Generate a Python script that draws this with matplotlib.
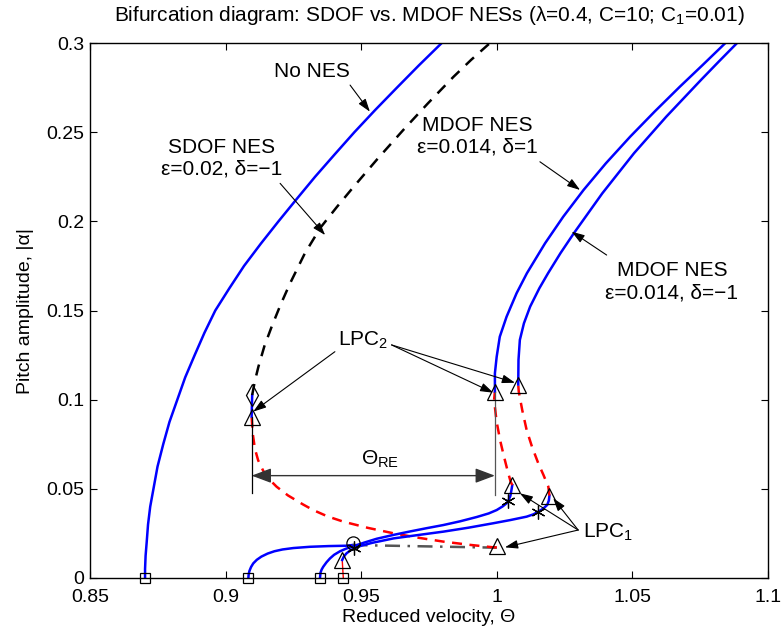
import numpy as np
import matplotlib
matplotlib.use('Agg')
import matplotlib.pyplot as plt
from matplotlib import font_manager

names = set(f.name for f in font_manager.fontManager.ttflist)
if 'Liberation Sans Narrow' in names:
    plt.rcParams['font.family'] = ['Liberation Sans Narrow', 'DejaVu Sans']
else:
    plt.rcParams['font.family'] = ['Liberation Sans', 'DejaVu Sans']
plt.rcParams['mathtext.fontset'] = 'custom'
plt.rcParams['mathtext.rm'] = plt.rcParams['font.family'][0]
plt.rcParams['mathtext.it'] = plt.rcParams['font.family'][0]

# ---- data ----
# no NES (blue, stable)
nones_theta = [0.8703, 0.8703, 0.8705, 0.8709, 0.8714, 0.8722, 0.8734, 0.8749, 0.8770, 0.8793,
               0.8822, 0.8851, 0.8886, 0.8922, 0.8962, 0.9014, 0.9068, 0.9130, 0.9195, 0.9262,
               0.9330, 0.9402, 0.9475, 0.9552, 0.9632, 0.9713, 0.9797]
nones_alpha = [0.0, 0.005, 0.0125, 0.02, 0.03, 0.04, 0.05, 0.0625, 0.075, 0.0875,
               0.1, 0.1125, 0.125, 0.1375, 0.15, 0.1625, 0.175, 0.1875, 0.2, 0.2125,
               0.225, 0.2375, 0.25, 0.2625, 0.275, 0.2875, 0.3]

# SDOF NES
sdof_low_theta = [0.9084, 0.9085, 0.9088, 0.9094, 0.9102, 0.9115, 0.9132, 0.9155, 0.9180, 0.9210,
                  0.9250, 0.9311, 0.9380, 0.9446, 0.9468]
sdof_low_alpha = [0.0, 0.0020, 0.0040, 0.0062, 0.0082, 0.0102, 0.0120, 0.0137, 0.0150, 0.0160,
                  0.0168, 0.0175, 0.0179, 0.0181, 0.0185]
sdof_dd_theta = [0.9468, 1.0000]
sdof_dd_alpha = [0.0185, 0.0170]
sdof_unst_theta = [1.0000, 0.9987, 0.9900, 0.9803, 0.9710, 0.9618, 0.9525, 0.9434, 0.9375, 0.9323,
                   0.9286, 0.9230, 0.9188, 0.9160, 0.9139, 0.9120, 0.9108, 0.9100, 0.9096]
sdof_unst_alpha = [0.0172, 0.0172, 0.0186, 0.0204, 0.0226, 0.0251, 0.0281, 0.0316, 0.0346, 0.0381,
                   0.0412, 0.0463, 0.0512, 0.0555, 0.0600, 0.0660, 0.0725, 0.0811, 0.0905]
sdof_mid_theta = [0.9096, 0.9098]
sdof_mid_alpha = [0.0905, 0.1026]
sdof_top_theta = [0.9098, 0.9108, 0.9121, 0.9143, 0.9170, 0.9202, 0.9237, 0.9292, 0.9350, 0.9410,
                  0.9470, 0.9560, 0.9655, 0.9745, 0.9840, 0.9905, 0.9975]
sdof_top_alpha = [0.1026, 0.1105, 0.1185, 0.1300, 0.1410, 0.1530, 0.1650, 0.1820, 0.1965, 0.2080,
                  0.2190, 0.2350, 0.2512, 0.2660, 0.2810, 0.2905, 0.3]

# MDOF NES, delta = 1
m1_low_theta = [0.9348, 0.9350, 0.9354, 0.9360, 0.9372, 0.9385, 0.9400, 0.9422, 0.9445, 0.9471,
                0.9510, 0.9557, 0.9620, 0.9680, 0.9740, 0.9803, 0.9865, 0.9926, 0.9970, 0.99995,
                1.0022, 1.0036, 1.0042, 1.0050, 1.0054, 1.0057]
m1_low_alpha = [0.0, 0.0030, 0.0047, 0.0063, 0.0088, 0.0110, 0.0130, 0.0150, 0.0165, 0.0178,
                0.0198, 0.0220, 0.0242, 0.0261, 0.0279, 0.0297, 0.0318, 0.0342, 0.0362, 0.0381,
                0.0402, 0.0419, 0.0432, 0.0460, 0.0493, 0.0521]
m1_unst_theta = [1.0057, 1.0051, 1.0039, 1.0025, 1.0012, 0.9999, 0.9990, 0.9993]
m1_unst_alpha = [0.0521, 0.0540, 0.0606, 0.0690, 0.0774, 0.0880, 0.0998, 0.1045]
m1_top_theta = [0.9993, 0.9993, 0.99995, 1.0011, 1.0036, 1.0073, 1.0111, 1.0178, 1.0245, 1.0320,
                1.0402, 1.0492, 1.0583, 1.0675, 1.0760, 1.0843]
m1_top_alpha = [0.1045, 0.1148, 0.1240, 0.1353, 0.1465, 0.1597, 0.1709, 0.1877, 0.2026, 0.2176,
                0.2325, 0.2475, 0.2617, 0.2755, 0.2878, 0.3]

# MDOF NES, delta = -1
m2_red_theta = [0.9434, 0.9430]
m2_red_alpha = [0.0, 0.0101]
m2_low_theta = [0.9430, 0.9436, 0.9445, 0.9458, 0.9475, 0.9500, 0.9540, 0.9619, 0.9710, 0.9803,
                0.9895, 0.9987, 1.0050, 1.0110, 1.0135, 1.0153, 1.0172, 1.0186, 1.0192, 1.0194]
m2_low_alpha = [0.0101, 0.0120, 0.0137, 0.0153, 0.0167, 0.0181, 0.0197, 0.0222, 0.0241, 0.0260,
                0.0282, 0.0307, 0.0325, 0.0344, 0.0357, 0.0372, 0.0390, 0.0410, 0.0435, 0.0462]
m2_unst_theta = [1.0194, 1.0190, 1.0172, 1.0153, 1.0130, 1.0110, 1.0094, 1.0081, 1.0079]
m2_unst_alpha = [0.0462, 0.0512, 0.0578, 0.0643, 0.0735, 0.0830, 0.0940, 0.1045, 0.1085]
m2_top_theta = [1.0079, 1.0080, 1.0085, 1.0100, 1.0123, 1.0157, 1.0189, 1.0235, 1.0284, 1.0389,
                1.0506, 1.0625, 1.0753, 1.0818, 1.0886]
m2_top_alpha = [0.1085, 0.1223, 0.1335, 0.1428, 0.1522, 0.1625, 0.1709, 0.1822, 0.1933, 0.2157,
                0.2382, 0.2587, 0.2793, 0.2895, 0.3]

# special points
sq_theta = [0.8703, 0.9084, 0.9348, 0.9434]
sq_alpha = [0.0, 0.0, 0.0, 0.0]
tri_theta = [0.9096, 0.9993, 1.0079, 1.0057, 1.0194, 1.0000, 0.9430]
tri_alpha = [0.0905, 0.1045, 0.1085, 0.0521, 0.0462, 0.0179, 0.0101]
star_theta = [1.0042, 1.0153, 0.9475]
star_alpha = [0.0432, 0.0372, 0.0167]
circ_theta = [0.9468]
circ_alpha = [0.0198]
diam_theta = [0.9098]
diam_alpha = [0.1026]

xticks = [0.85, 0.9, 0.95, 1.0, 1.05, 1.1]
xticklabels = ['0.85', '0.9', '0.95', '1', '1.05', '1.1']
yticks = [0, 0.05, 0.1, 0.15, 0.2, 0.25, 0.3]
yticklabels = ['0', '0.05', '0.1', '0.15', '0.2', '0.25', '0.3']

fig = plt.figure(figsize=(7.83, 6.41), dpi=100)
ax = fig.add_axes([90/783, 1-578/641, 678/783, 535/641])

blue = '#0000ff'
red = '#ff0000'
lw = 1.8
reddash = (0, (4, 3))
blackdash = (0, (4.5, 3.5))

ax.plot(nones_theta, nones_alpha, color=blue, lw=lw)

ax.plot(sdof_low_theta, sdof_low_alpha, color=blue, lw=lw)
ax.plot(sdof_dd_theta, sdof_dd_alpha, color='#555555', lw=lw, linestyle=(0, (6, 3, 1, 3)))
ax.plot(sdof_unst_theta, sdof_unst_alpha, color=red, lw=lw, linestyle=reddash)
ax.plot(sdof_mid_theta, sdof_mid_alpha, color=blue, lw=lw)
ax.plot(sdof_top_theta, sdof_top_alpha, color='k', lw=lw, linestyle=blackdash)

ax.plot(m1_low_theta, m1_low_alpha, color=blue, lw=lw)
ax.plot(m1_unst_theta, m1_unst_alpha, color=red, lw=lw, linestyle=reddash)
ax.plot(m1_top_theta, m1_top_alpha, color=blue, lw=lw)

ax.plot(m2_red_theta, m2_red_alpha, color=red, lw=1.0)
ax.plot(m2_low_theta, m2_low_alpha, color=blue, lw=lw)
ax.plot(m2_unst_theta, m2_unst_alpha, color=red, lw=lw, linestyle=reddash)
ax.plot(m2_top_theta, m2_top_alpha, color=blue, lw=lw)

mk = dict(linestyle='none', mfc='none', mec='k', mew=0.9, clip_on=False, zorder=5)
ax.plot(sq_theta, sq_alpha, marker='s', ms=7, **mk)
ax.plot(tri_theta, tri_alpha, marker='^', ms=11.5, **mk)
ax.plot(star_theta, star_alpha, marker=(6, 2, 0), ms=10, **mk)
ax.plot(circ_theta, circ_alpha, marker='o', ms=9.5, **mk)
ax.plot(diam_theta, diam_alpha, marker='d', ms=11, **mk)

# Theta_RE construction
ax.plot([0.9096, 0.9096], [0.0905, 0.0475], color='k', lw=0.9)
ax.plot([0.9993, 0.9993], [0.1045, 0.0465], color='#555555', lw=0.9)
ax.annotate('', xy=(0.9096, 0.0574), xytext=(0.9993, 0.0574),
            arrowprops=dict(arrowstyle='<|-|>,head_length=0.8,head_width=0.3', color='#333333',
                            lw=1.0, mutation_scale=15, shrinkA=0, shrinkB=0))
ax.text(0.9569, 0.0665, r'$\Theta_{\rm RE}$', fontsize=15, ha='center', va='center')

fs = 15
arr = dict(arrowstyle='-|>,head_length=0.6,head_width=0.2', color='k', lw=0.8,
           mutation_scale=13, shrinkA=0, shrinkB=0)

ax.text(0.9317, 0.2839, 'No NES', fontsize=fs, ha='center', va='center')
ax.annotate('', xy=(0.9532, 0.2615), xytext=(0.9459, 0.2764), arrowprops=arr)

ax.text(0.8986, 0.2355, 'SDOF NES\nε=0.02, δ=\u22121', fontsize=fs, ha='center', va='center',
        linespacing=1.2)
ax.annotate('', xy=(0.9367, 0.1923), xytext=(0.9201, 0.2213), arrowprops=arr)

ax.text(0.9927, 0.2478, 'MDOF NES\nε=0.014, δ=1', fontsize=fs, ha='center', va='center',
        linespacing=1.2)
ax.annotate('', xy=(1.0307, 0.2176), xytext=(1.0159, 0.2334), arrowprops=arr)

ax.text(1.0646, 0.1660, 'MDOF NES\nε=0.014, δ=\u22121', fontsize=fs, ha='center', va='center',
        linespacing=1.2)
ax.annotate('', xy=(1.0276, 0.1942), xytext=(1.0405, 0.1811), arrowprops=arr)

ax.text(0.9507, 0.1335, r'LPC$_2$', fontsize=fs, ha='center', va='center')
ax.annotate('', xy=(0.9102, 0.0933), xytext=(0.9403, 0.1269), arrowprops=arr)
ax.annotate('', xy=(0.9987, 0.1039), xytext=(0.9612, 0.1307), arrowprops=arr)
ax.annotate('', xy=(1.0067, 0.1095), xytext=(0.9612, 0.1307), arrowprops=arr)

ax.text(1.0318, 0.0258, r'LPC$_1$', fontsize=fs, ha='left', va='center')
ax.annotate('', xy=(1.0085, 0.0475), xytext=(1.0300, 0.0269), arrowprops=arr)
ax.annotate('', xy=(1.0208, 0.0447), xytext=(1.0300, 0.0269), arrowprops=arr)
ax.annotate('', xy=(1.0030, 0.0172), xytext=(1.0300, 0.0269), arrowprops=arr)

ax.set_xlim(0.85, 1.1)
ax.set_ylim(0, 0.3)
ax.set_xticks(xticks)
ax.set_xticklabels(xticklabels)
ax.set_yticks(yticks)
ax.set_yticklabels(yticklabels)
ax.tick_params(direction='in', top=True, right=True, length=5, width=0.8, labelsize=14)
ax.tick_params(axis='x', pad=8)
ax.tick_params(axis='y', pad=4)
for s in ax.spines.values():
    s.set_linewidth(1.0)

ax.set_xlabel('Reduced velocity, Θ', fontsize=14, labelpad=2)
ax.set_ylabel('Pitch amplitude, |α|', fontsize=14, labelpad=9)
ax.set_title('Bifurcation diagram: SDOF vs. MDOF NESs (λ=0.4, C=10; C$_1$=0.01)',
             fontsize=15, pad=16)

fig.savefig('out.png', dpi=100)
